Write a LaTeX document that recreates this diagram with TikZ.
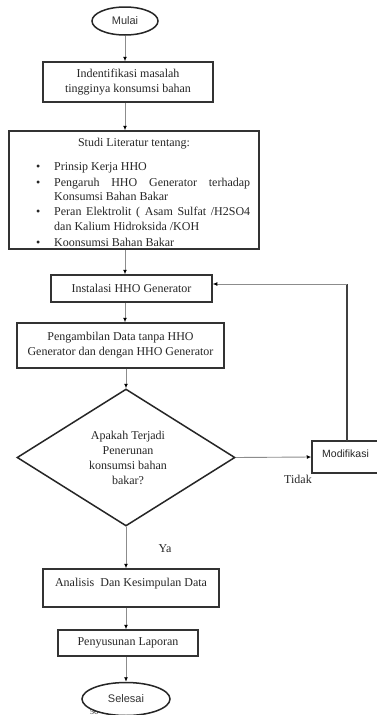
\documentclass[tikz,border=0pt]{standalone}
\usepackage{fontspec}
\setmainfont{Liberation Serif}
\setsansfont{Liberation Sans}
\usetikzlibrary{arrows.meta,shapes.geometric}
\begin{document}
\begin{tikzpicture}[x=1pt,y=-1pt,
  box/.style={draw=black!80,line width=1.5pt,inner sep=0pt,text=black!85},
  oval/.style={ellipse,draw=black!85,line width=1.5pt,inner sep=0pt,text=black!80,font=\sffamily\fontsize{11}{12}\selectfont},
  conn/.style={draw=black!45,line width=0.9pt,-{Latex[length=4.5pt,width=4pt,color=black]}},
  txt/.style={text=black!85,inner sep=0pt,font=\fontsize{12}{15}\selectfont},
  every node/.append style={font=\fontsize{12}{15}\selectfont}]
\path[fill=white] (0,0) rectangle (377,715);
\useasboundingbox (0,0) rectangle (377,715);
\begin{scope}
\clip (0,0) rectangle (377,715);
% terminals
\node[oval,minimum width=66pt,minimum height=28pt] (mulai) at (125,21) {Mulai};
\node[txt,font=\fontsize{8}{9}\selectfont] (pg) at (94,712) {56};
\node[oval,minimum width=88pt,minimum height=33pt,fill=white] (selesai) at (126,699) {Selesai};
% boxes
\node[box,minimum width=170pt,minimum height=40pt,align=center] (ident) at (128,82) {Indentifikasi masalah\\tingginya konsumsi bahan};
\node[box,minimum width=250pt,minimum height=118pt] (lit) at (134,190) {};
\node[txt,anchor=base] (lt0) at (134,146) {Studi Literatur tentang:};
\node[txt,anchor=base west] (b1) at (36,170) {\textbullet};
\node[txt,anchor=base west] (l1) at (54,170) {Prinsip Kerja HHO};
\node[txt,anchor=base west] (b2) at (36,186) {\textbullet};
\node[txt,anchor=base west] (l2) at (54,186) {\makebox[196pt][s]{Pengaruh HHO Generator terhadap}};
\node[txt,anchor=base west] (l3) at (54,200) {Konsumsi Bahan Bakar};
\node[txt,anchor=base west] (b3) at (36,215) {\textbullet};
\node[txt,anchor=base west] (l4) at (54,215) {\makebox[196pt][s]{Peran Elektrolit ( Asam Sulfat /H2SO4}};
\node[txt,anchor=base west] (l5) at (54,230) {dan Kalium Hidroksida /KOH};
\node[txt,anchor=base west] (b4) at (36,246) {\textbullet};
\node[txt,anchor=base west] (l6) at (54,246) {Koonsumsi Bahan Bakar};
\node[box,minimum width=161pt,minimum height=27pt] (inst) at (131.5,288.5) {Instalasi HHO Generator};
\node[box,minimum width=207pt,minimum height=45pt,align=center] (data) at (120.5,345.5) {Pengambilan Data tanpa HHO\\Generator dan dengan HHO Generator};
\node[diamond,draw=black!85,line width=1.5pt,minimum width=218pt,minimum height=137pt,inner sep=0pt] (dec) at (126,457.5) {};
\node[txt,align=center] (dect) at (128,458) {Apakah Terjadi\\Penerunan\\konsumsi bahan\\bakar?};
\node[box,minimum width=72pt,minimum height=32pt] (modif) at (348,457) {};
\node[txt,font=\sffamily\fontsize{10.5}{12}\selectfont,anchor=west] (modt) at (322,454) {Modifikasi};
\node[box,minimum width=176pt,minimum height=38pt] (anal) at (131,588) {};
\node[txt,anchor=base] (analt) at (131,586) {Analisis\ \ Dan Kesimpulan Data};
\node[box,minimum width=140pt,minimum height=26pt] (peny) at (128,643) {Penyusunan Laporan};
\node[txt] (tidak) at (298,479) {Tidak};
\node[txt] (ya) at (165,549) {Ya};
% connectors
\draw[conn] (mulai.south) -- (mulai.south |- ident.north);
\draw[conn] (ident.south -| mulai.south) -- (mulai.south |- lit.north);
\draw[conn] (lit.south -| mulai.south) -- (mulai.south |- inst.north);
\draw[conn] (inst.south -| mulai.south) -- (mulai.south |- data.north);
\draw[conn] (data.south -| dec.north) -- (dec.north);
\draw[conn] (dec.east) -- (modif.west);
\coordinate (fb) at (347,441);
\draw[draw=black!75,line width=1.1pt] (fb) -- (347,284);
\draw[conn] (347,284) -- (inst.east |- 347,284);
\draw[conn] (dec.south) -- (dec.south |- anal.north);
\draw[conn] (anal.south -| dec.south) -- (dec.south |- peny.north);
\draw[conn] (peny.south -| dec.south) -- (dec.south |- selesai.north);
\end{scope}
\end{tikzpicture}
\end{document}
